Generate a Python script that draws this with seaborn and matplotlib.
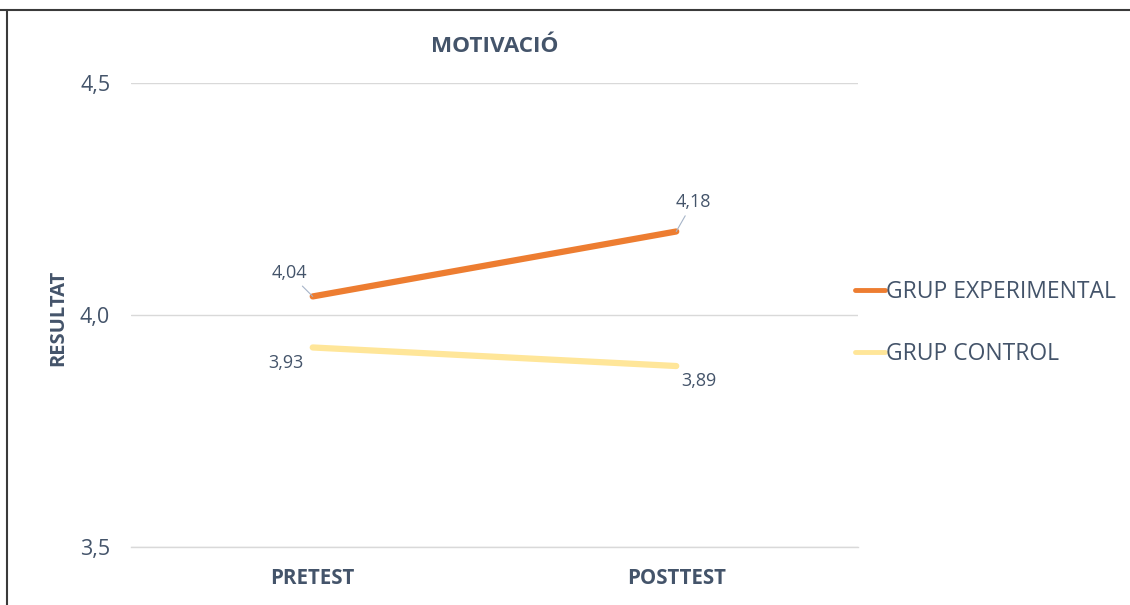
import matplotlib
matplotlib.use('Agg')
import pandas as pd
import matplotlib.pyplot as plt
import seaborn as sns
from matplotlib.lines import Line2D
from matplotlib.ticker import FuncFormatter, FixedLocator

# Chart data
categories = ['PRETEST', 'POSTTEST']
grup_experimental = [4.04, 4.18]
grup_control = [3.93, 3.89]
series_names = ['GRUP EXPERIMENTAL', 'GRUP CONTROL']
y_ticks = [3.5, 4.0, 4.5]

# label offsets in points (dx, dy) and whether a leader line is drawn
label_offsets = {
    'GRUP EXPERIMENTAL': [(-17, 17, True), (12, 21, True)],
    'GRUP CONTROL': [(-19, -11, False), (16, -11, False)],
}

text_color = '#44546A'
grid_color = '#D9D9D9'
palette = {'GRUP EXPERIMENTAL': '#ED7D31', 'GRUP CONTROL': '#FFE699'}

# long format for seaborn
df = pd.DataFrame({
    'fase': categories * 2,
    'valor': grup_experimental + grup_control,
    'grup': [series_names[0]] * len(categories) + [series_names[1]] * len(categories),
})

sns.set_style('white')
plt.rcParams['font.family'] = ['Open Sans', 'DejaVu Sans']

fig = plt.figure(figsize=(11.3, 6.05), dpi=100)
ax = fig.add_axes([0.1159, 0.0959, 0.6434, 0.7669])

sns.lineplot(data=df, x='fase', y='valor', hue='grup', palette=palette,
             linewidth=4.5, solid_capstyle='round', sort=False, ax=ax)

ax.set_xlim(-0.5, len(categories) - 0.5)
ax.set_ylim(y_ticks[0], y_ticks[-1])
ax.yaxis.set_major_locator(FixedLocator(y_ticks))
ax.yaxis.set_major_formatter(FuncFormatter(lambda v, p: f'{v:.1f}'.replace('.', ',')))
ax.grid(axis='y', color=grid_color, linewidth=1)
ax.set_axisbelow(True)

for s in ['top', 'right', 'left']:
    ax.spines[s].set_visible(False)
ax.spines['bottom'].set_color(grid_color)
ax.spines['bottom'].set_linewidth(1)

ax.set_xticks(range(len(categories)))
ax.set_xticklabels(categories, fontweight='bold')
ax.set_xticks([i - 0.5 for i in range(len(categories) + 1)], minor=True)
ax.tick_params(axis='x', which='major', length=0, pad=15, labelsize=14.8, labelcolor=text_color)
ax.tick_params(axis='x', which='minor', length=4, color=grid_color, width=1)
ax.tick_params(axis='y', length=0, pad=15, labelsize=15.5, labelcolor=text_color)
ax.set_xlabel('')
ax.set_ylabel('')

ax.set_title('MOTIVACIÓ', fontsize=16.2, fontweight='bold', color=text_color, pad=22)
fig.text(58 / 1130, 1 - 318 / 605, 'RESULTAT', rotation=90, ha='center', va='center',
         fontsize=14.5, fontweight='bold', color=text_color)

# data labels
for name, vals in zip(series_names, [grup_experimental, grup_control]):
    for i, v in enumerate(vals):
        dx, dy, leader = label_offsets[name][i]
        ax.annotate(f'{v:.2f}'.replace('.', ','), xy=(i, v), xytext=(dx, dy),
                    textcoords='offset points', ha='center', va='center',
                    fontsize=13, color=text_color,
                    arrowprops=dict(arrowstyle='-', color='#A6B4C8', lw=0.8,
                                    shrinkA=1, shrinkB=0) if leader else None)

# legend on the right
old = ax.get_legend()
handles = [Line2D([], [], color=palette[n], linewidth=3.5, solid_capstyle='round')
           for n in series_names]
old.remove()
ax.legend(handles, series_names, loc='center left', bbox_to_anchor=(855 / 1130, 1 - 323 / 605),
          bbox_transform=fig.transFigure, frameon=False, borderpad=0, borderaxespad=0,
          handlelength=1.31, handletextpad=0.05, labelspacing=1.7, fontsize=16.5,
          labelcolor=text_color)

# screenshot frame (top and left edges)
fig.add_artist(Line2D([0, 1], [1 - 9.5 / 605] * 2, transform=fig.transFigure, color='#3a3a3a', lw=1.5))
fig.add_artist(Line2D([7 / 1130] * 2, [0, 1 - 9.5 / 605], transform=fig.transFigure, color='#3a3a3a', lw=1.5))

fig.savefig('out.png', dpi=100)
